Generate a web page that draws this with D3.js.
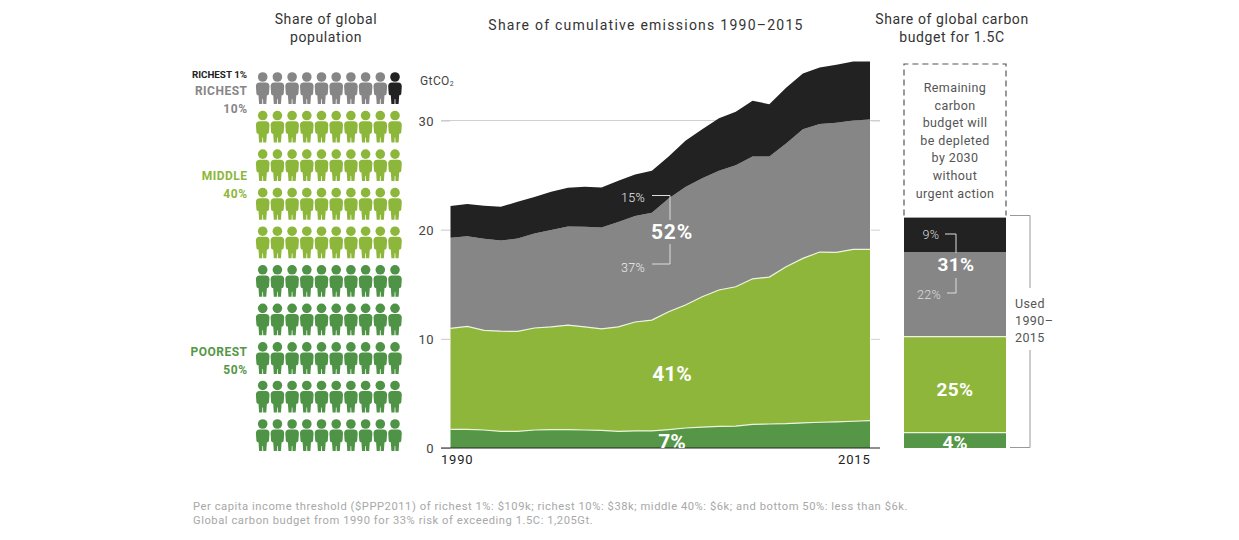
<!DOCTYPE html>
<html>
<head>
<meta charset="utf-8">
<script src="https://cdn.jsdelivr.net/npm/d3@7"></script>
<style>
  body { margin: 0; background: #fff; }
  svg { display: block; }
  text { font-family: Roboto, sans-serif; }
</style>
</head>
<body>
<script>
var years = [1990,1991,1992,1993,1994,1995,1996,1997,1998,1999,2000,2001,2002,2003,2004,2005,2006,2007,2008,2009,2010,2011,2012,2013,2014,2015];
// GtCO2 per income group, bottom band first
var poorest50 = [1.71,1.71,1.65,1.53,1.53,1.65,1.68,1.68,1.65,1.62,1.53,1.56,1.56,1.68,1.83,1.92,1.98,2.01,2.17,2.2,2.23,2.3,2.36,2.4,2.45,2.5];
var middle40 = [9.25,9.43,9.12,9.17,9.15,9.34,9.42,9.58,9.45,9.3,9.57,9.98,10.16,10.8,11.27,11.94,12.49,12.76,13.33,13.46,14.37,15.07,15.59,15.52,15.75,15.7];
var next9 = [8.3,8.26,8.4,8.3,8.52,8.66,8.86,9.04,9.17,9.28,9.6,9.71,9.83,10.38,10.8,10.84,10.93,11.13,11.2,11.04,11.3,11.83,11.72,11.88,11.8,11.9];
var top1 = [2.9,2.94,3.03,3.1,3.35,3.35,3.51,3.54,3.66,3.67,3.78,3.81,3.85,3.84,4.24,4.5,4.8,4.9,5.1,4.8,5.1,5.1,5.18,5.3,5.4,5.3];

var groupKeys = ["poorest50", "middle40", "next9", "top1"];
var groupColors = ["#559747", "#8eb63a", "#868686", "#222222"];
var yTicks = [0, 10, 20, 30];

// share of the carbon budget used 1990-2015, same group order
var budgetShares = [4, 25, 22, 9];
// people out of 100, drawn from the top left
var peopleOrder = ["next9", "top1", "middle40", "poorest50"];
var peopleCounts = [9, 1, 40, 50];

var footnotes = [
  "Per capita income threshold ($PPP2011) of richest 1%: $109k; richest 10%: $38k; middle 40%: $6k; and bottom 50%: less than $6k.",
  "Global carbon budget from 1990 for 33% risk of exceeding 1.5C: 1,205Gt."
];

var svg = d3.select("body").append("svg").attr("width", 1239).attr("height", 540);

function label(x, y, txt, size, color, anchor, weight, spacing) {
  return svg.append("text")
    .attr("x", x).attr("y", y)
    .attr("text-anchor", anchor || "start")
    .style("font-size", size + "px")
    .style("font-weight", weight || 400)
    .style("letter-spacing", (spacing || 0) + "px")
    .style("fill", color)
    .text(txt);
}

function polyline(points, color, width) {
  svg.append("path")
    .attr("d", d3.line()(points))
    .attr("fill", "none")
    .attr("stroke", color)
    .attr("stroke-width", width || 1);
}

// titles
label(326, 24, "Share of global", 14, "#333", "middle", 400, 0.6);
label(326, 42, "population", 14, "#333", "middle", 400, 0.6);
label(646, 30, "Share of cumulative emissions 1990–2015", 14, "#333", "middle", 400, 1.25);
label(952, 24, "Share of global carbon", 14, "#333", "middle", 400, 0.6);
label(952, 42, "budget for 1.5C", 14, "#333", "middle", 400, 0.6);

// ---- people pictogram ----
var colorOf = d3.scaleOrdinal().domain(groupKeys).range(["#4f9346", "#8db73b", "#868686", "#222222"]);
var people = [];
peopleOrder.forEach(function (g, i) {
  d3.range(peopleCounts[i]).forEach(function () { people.push(g); });
});
var colX = d3.scalePoint().domain(d3.range(10)).range([262.7, 395]);
var rowY = d3.scalePoint().domain(d3.range(10)).range([77, 424]);

var personBody = "M-3,5.6 L3,5.6 C5.5,5.6 6.8,7.2 6.8,9.5 L6.3,16.5 C6.2,18 5,18.5 4.2,18.2 L3.6,27 L0.5,27 L0.3,22 L-0.3,22 L-0.5,27 L-3.6,27 L-4.2,18.2 C-5,18.5 -6.2,18 -6.3,16.5 L-6.8,9.5 C-6.8,7.2 -5.5,5.6 -3,5.6 Z";

var person = svg.selectAll(".person")
  .data(people)
  .enter()
  .append("g")
  .attr("class", "person")
  .attr("transform", function (d, i) {
    return "translate(" + colX(i % 10) + "," + rowY(Math.floor(i / 10)) + ")";
  })
  .style("fill", function (d) { return colorOf(d); });
person.append("circle").attr("r", 4.8);
person.append("path").attr("d", personBody);

label(247, 78, "RICHEST 1%", 9.8, "#222", "end", 700, 0);
label(247.5, 95, "RICHEST", 12, "#868686", "end", 700, 0.5);
label(247.5, 113, "10%", 12, "#868686", "end", 700, 0.5);
label(247.5, 180, "MIDDLE", 12, "#8db73b", "end", 700, 0.5);
label(247.5, 198, "40%", 12, "#8db73b", "end", 700, 0.5);
label(247.5, 356, "POOREST", 12, "#559747", "end", 700, 0.5);
label(247.5, 374, "50%", 12, "#559747", "end", 700, 0.5);

// ---- stacked area ----
var x = d3.scaleLinear().domain([1990, 2015]).range([450.5, 870]);
var y = d3.scaleLinear().domain([0, 30]).range([448, 120.5]);

var rows = years.map(function (yr, i) {
  return { year: yr, poorest50: poorest50[i], middle40: middle40[i], next9: next9[i], top1: top1[i] };
});
var series = d3.stack().keys(groupKeys)(rows);

svg.append("line")
  .attr("x1", 441).attr("x2", 880)
  .attr("y1", y(30)).attr("y2", y(30))
  .attr("stroke", "#d0d0d0");

var area = d3.area()
  .x(function (d) { return x(d.data.year); })
  .y0(function (d) { return y(d[0]); })
  .y1(function (d) { return y(d[1]); });

svg.selectAll(".band")
  .data(series)
  .enter()
  .append("path")
  .attr("class", "band")
  .attr("d", area)
  .attr("fill", function (d, i) { return groupColors[i]; });

// pale edge on top of the two green bands
var edge = d3.line()
  .x(function (d) { return x(d.data.year); })
  .y(function (d) { return y(d[1]); });
svg.selectAll(".edge")
  .data(series.slice(0, 2))
  .enter()
  .append("path")
  .attr("class", "edge")
  .attr("d", edge)
  .attr("fill", "none")
  .attr("stroke", "#eef3e0")
  .attr("stroke-width", 1.2);

var yAxis = svg.append("g")
  .attr("transform", "translate(450,0)")
  .call(d3.axisLeft(y).tickValues(yTicks).tickSize(9).tickPadding(7));
yAxis.select(".domain").remove();
yAxis.selectAll("line").attr("stroke", "#c8c8c8");
yAxis.selectAll("text").style("font-size", "13px").style("fill", "#444").style("letter-spacing", "0.5px").attr("dy", "0.36em");

var yAxisRight = svg.append("g")
  .attr("transform", "translate(871,0)")
  .call(d3.axisRight(y).tickValues(yTicks.slice(1)).tickSize(9).tickFormat(""));
yAxisRight.select(".domain").remove();
yAxisRight.selectAll("line").attr("stroke", "#d0d0d0");

svg.append("line")
  .attr("x1", 441).attr("x2", 880)
  .attr("y1", y(0)).attr("y2", y(0))
  .attr("stroke", "#222").attr("stroke-width", 1.2);

var xAxis = svg.append("g")
  .attr("transform", "translate(0," + y(0) + ")")
  .call(d3.axisBottom(x).tickValues([1990, 2015]).tickSize(0).tickPadding(7).tickFormat(d3.format("d")));
xAxis.select(".domain").remove();
xAxis.selectAll("text")
  .style("font-size", "13px")
  .style("font-weight", 400)
  .style("fill", "#222")
  .style("letter-spacing", "0.8px")
  .style("text-anchor", function (d) { return d === 1990 ? "start" : "end"; })
  .attr("dx", function (d) { return d === 1990 ? -10 : 0; });

var gt = label(420, 85, "GtCO", 12, "#444", "start", 400, 0.4);
gt.append("tspan").attr("dy", 1).style("font-size", "7px").text("2");

// clip for the labels that sit on the baseline
svg.append("clipPath").attr("id", "above-axis")
  .append("rect").attr("x", 0).attr("y", 0).attr("width", 1239).attr("height", y(0));

label(633, 202, "15%", 12.5, "#eee", "middle", 300, 0.3);
label(633, 272, "37%", 12.5, "#eee", "middle", 300, 0.3);
label(672, 239, "52%", 21, "#fff", "middle", 700, 0.8);
label(672, 381, "41%", 21, "#fff", "middle", 700, 0);
label(672, 449, "7%", 21, "#fff", "middle", 700, 0).attr("clip-path", "url(#above-axis)");
polyline([[652, 195.5], [670, 195.5], [670, 220]], "#ddd");
polyline([[670, 244], [670, 264], [652, 264]], "#ddd");

// ---- budget bar ----
var yShare = d3.scaleLinear().domain([0, 100]).range([448, 64]);
var barLeft = 904, barRight = 1006;
var barRow = {};
groupKeys.forEach(function (k, i) { barRow[k] = budgetShares[i]; });
var barSeries = d3.stack().keys(groupKeys)([barRow]);

svg.selectAll(".budget")
  .data(barSeries)
  .enter()
  .append("rect")
  .attr("class", "budget")
  .attr("x", barLeft)
  .attr("width", barRight - barLeft)
  .attr("y", function (d) { return yShare(d[0][1]); })
  .attr("height", function (d) { return yShare(d[0][0]) - yShare(d[0][1]); })
  .attr("fill", function (d, i) { return groupColors[i]; });

svg.selectAll(".budget-edge")
  .data(barSeries.slice(0, 2))
  .enter()
  .append("line")
  .attr("class", "budget-edge")
  .attr("x1", barLeft).attr("x2", barRight)
  .attr("y1", function (d) { return yShare(d[0][1]); })
  .attr("y2", function (d) { return yShare(d[0][1]); })
  .attr("stroke", "#eef3e0").attr("stroke-width", 1.2);

var usedTop = yShare(d3.sum(budgetShares));

svg.append("path")
  .attr("d", d3.line()([[barLeft, usedTop - 2], [barLeft, yShare(100)], [barRight, yShare(100)], [barRight, usedTop - 2]]))
  .attr("fill", "none")
  .attr("stroke", "#555")
  .attr("stroke-width", 1.2)
  .attr("stroke-dasharray", "6 4");

var remaining = ["Remaining", "carbon", "budget will", "be depleted", "by 2030", "without", "urgent action"];
remaining.forEach(function (t, i) {
  label(955, 92 + i * 17.6, t, 12.5, "#555", "middle", 400, 0.4);
});

label(931, 239, "9%", 12.5, "#ddd", "middle", 300, 0.3);
label(929, 299, "22%", 12.5, "#ddd", "middle", 300, 0.3);
label(956, 271, "31%", 19, "#fff", "middle", 700, 0.4);
label(955, 396, "25%", 19, "#fff", "middle", 700, 0.4);
label(955, 449, "4%", 19, "#fff", "middle", 700, 0).attr("clip-path", "url(#above-axis)");
polyline([[945, 234], [956, 234], [956, 253]], "#ddd");
polyline([[956, 278], [956, 293], [947, 293]], "#ddd");

// bracket for used share
polyline([[1010, 215.5], [1030, 215.5], [1030, 288]], "#999");
polyline([[1030, 350], [1030, 447.5], [1010, 447.5]], "#999");
label(1015, 308, "Used", 12.5, "#555", "start", 400, 0.4);
label(1015, 325, "1990–", 12.5, "#555", "start", 400, 0.4);
label(1015, 342, "2015", 12.5, "#555", "start", 400, 0.4);

// footnotes
footnotes.forEach(function (t, i) {
  label(193, 510 + i * 14, t, 11.2, "#a8a8a8", "start", 400, 0.55);
});
</script>
</body>
</html>
